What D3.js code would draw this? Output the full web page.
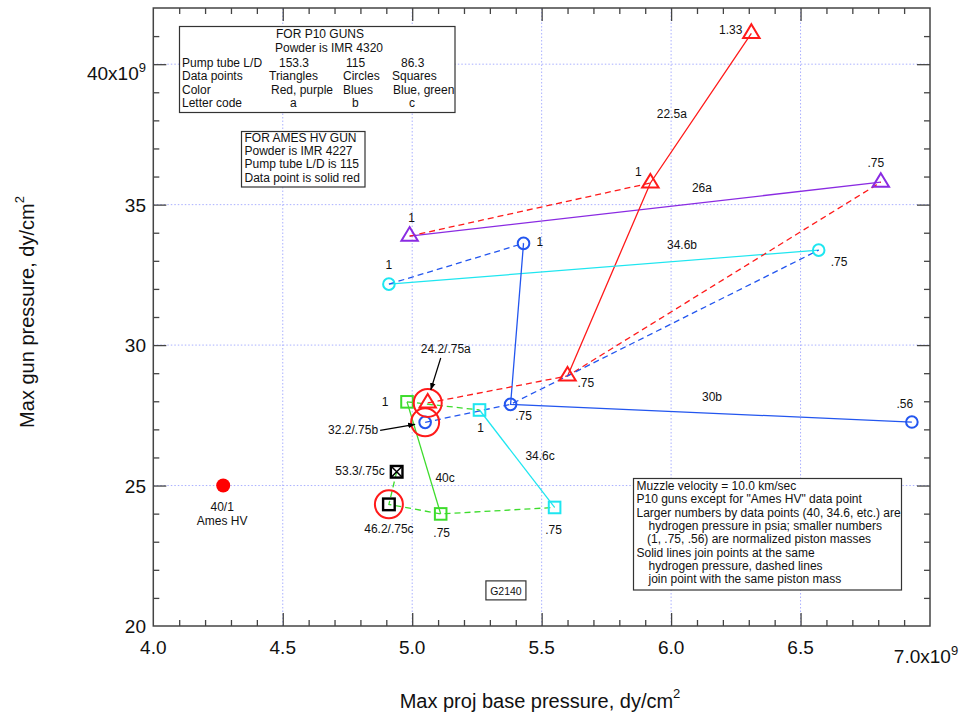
<!DOCTYPE html>
<html>
<head>
<meta charset="utf-8">
<script src="https://cdn.jsdelivr.net/npm/d3@7/dist/d3.min.js"></script>
<style>
  body { margin: 0; background: #fff; }
  svg { display: block; font-family: "Liberation Sans", Arial, Helvetica, sans-serif; }
</style>
</head>
<body>
<svg id="chart" width="969" height="719"></svg>
<script>
// Max gun pressure vs. max projectile base pressure (units of 1e9 dy/cm^2),
// P10 guns at 10.0 km/sec muzzle velocity, plus one Ames HV gun point.

// Axis ticks
const xMajorTicks = [4.0, 4.5, 5.0, 5.5, 6.0, 6.5, 7.0];
const xTickLabels = ["4.0", "4.5", "5.0", "5.5", "6.0", "6.5", "7.0x10"];
const yMajorTicks = [20, 25, 30, 35, 40];
const yTickLabels = ["20", "25", "30", "35", "40x10"];

// Rows: [hydrogen pressure + letter code, normalized piston mass, proj base pressure, gun pressure]
const triangles = [
  ["26a",   1.00, 4.99, 33.88],
  ["26a",   0.75, 6.81, 35.80],
  ["22.5a", 1.33, 6.31, 41.10],
  ["22.5a", 1.00, 5.92, 35.77],
  ["22.5a", 0.75, 5.60, 28.90],
  ["24.2a", 0.75, 5.06, 27.94]
];
const circles = [
  ["34.6b", 1.00, 4.91, 32.17],
  ["34.6b", 0.75, 6.57, 33.38],
  ["30b",   1.00, 5.43, 33.62],
  ["30b",   0.75, 5.38, 27.89],
  ["30b",   0.56, 6.93, 27.26],
  ["32.2b", 0.75, 5.05, 27.25]
];
const squares = [
  ["40c",   1.00, 4.98, 27.98],
  ["40c",   0.75, 5.11, 23.99],
  ["34.6c", 1.00, 5.26, 27.69],
  ["34.6c", 0.75, 5.55, 24.22],
  ["53.3c", 0.75, 4.94, 25.49],
  ["46.2c", 0.75, 4.91, 24.33]
];
const amesHV = [["40", 1.00, 4.27, 25.00]];

// Runs joined at the same piston mass (dashed)
const sameMassRuns = [
  ["26a/1", "22.5a/1"],
  ["24.2a/.75", "22.5a/.75", "26a/.75"],
  ["34.6b/1", "30b/1"],
  ["32.2b/.75", "30b/.75", "34.6b/.75"],
  ["40c/1", "34.6c/1"],
  ["53.3c/.75", "46.2c/.75", "40c/.75", "34.6c/.75"]
];

// Hydrogen-pressure labels along the solid lines: [text, x, y]
const lineLabels = [
  ["22.5a", 6.003, 38.08],
  ["26a",   6.119, 35.44],
  ["34.6b", 6.042, 33.42],
  ["30b",   6.158, 28.01],
  ["34.6c", 5.494, 25.91],
  ["40c",   5.127, 25.14]
];

// Points circled in red
const circledIds = ["24.2a/.75", "32.2b/.75", "46.2c/.75"];

// ---------------------------------------------------------------------------
const RED = "#ff1a1a", PURPLE = "#8a2be2", BLUE = "#2356ef", CYAN = "#1ee6f0", GREEN = "#3ddc2c";
const groupColor = {
  "26a": PURPLE, "22.5a": RED, "24.2a": RED,
  "34.6b": CYAN, "30b": BLUE, "32.2b": BLUE,
  "40c": GREEN, "34.6c": CYAN, "53.3c": "#000", "46.2c": "#000"
};
const dashColor = { a: RED, b: BLUE, c: GREEN };

const massText = m => (m < 1 ? String(m).replace(/^0/, "") : String(m));

const svg = d3.select("#chart");
const x = d3.scaleLinear().domain([4, 7]).range([153.3, 930]);
const y = d3.scaleLinear().domain([20, 42]).range([626, 8]);

function toPoints(rows, shape) {
  return rows.map(([group, mass, pb, pg]) => ({
    group, mass, pb, pg, shape,
    code: group.slice(-1),
    id: group + "/" + massText(mass)
  }));
}
const pts = [
  ...toPoints(triangles, "triangle"),
  ...toPoints(circles, "circle"),
  ...toPoints(squares, "square")
];
const byId = new Map(pts.map(p => [p.id, p]));

// Grid
const grid = svg.append("g")
  .attr("stroke", "#aab0ff").attr("stroke-width", 1).attr("stroke-dasharray", "1.5,2");
grid.selectAll("line.gx").data(xMajorTicks.filter(v => v > 4 && v < 7)).join("line")
  .attr("x1", d => x(d)).attr("x2", d => x(d)).attr("y1", y(20)).attr("y2", y(42));
grid.selectAll("line.gy").data(yMajorTicks.filter(v => v > 20)).join("line")
  .attr("y1", d => y(d)).attr("y2", d => y(d)).attr("x1", x(4)).attr("x2", x(7));

// Text boxes (frames first, text on top)
const boxFrames = svg.append("g").attr("fill", "#fff").attr("stroke", "#333").attr("stroke-width", 1.2);
const boxText = svg.append("g").attr("font-size", 12).attr("fill", "#111");
function textBox(x0, y0, w, h) {
  boxFrames.append("rect").attr("x", x0).attr("y", y0).attr("width", w).attr("height", h);
}

textBox(179.5, 26.5, 275.5, 86);
boxText.append("text").attr("x", 320).attr("y", 38).attr("text-anchor", "middle").text("FOR P10 GUNS");
boxText.append("text").attr("x", 329).attr("y", 52).attr("text-anchor", "middle").text("Powder is IMR 4320");
const p10Rows = [
  ["Pump tube L/D", "153.3", "115", "86.3"],
  ["Data points", "Triangles", "Circles", "Squares"],
  ["Color", "Red, purple", "Blues", "Blue, green"],
  ["Letter code", "a", "b", "c"]
];
const p10ColX = [[182, 279, 346, 401], [182, 269, 343, 392], [182, 271, 343, 393], [182, 290, 352, 409]];
p10Rows.forEach((row, i) => row.forEach((cell, j) => {
  boxText.append("text").attr("x", p10ColX[i][j]).attr("y", 66.5 + i * 13.6).text(cell);
}));

textBox(241.5, 131.5, 123.5, 55.5);
["FOR AMES HV GUN", "Powder is IMR 4227", "Pump tube L/D is 115", "Data point is solid red"]
  .forEach((t, i) => boxText.append("text").attr("x", 244.5).attr("y", 141.8 + i * 13.3).text(t));

textBox(633.5, 478.5, 268, 111.5);
const notes = [
  ["Muzzle velocity = 10.0 km/sec", 0],
  ["P10 guns except for \"Ames HV\" data point", 0],
  ["Larger numbers by data points (40, 34.6, etc.) are", 0],
  ["hydrogen pressure in psia; smaller numbers", 12],
  ["(1, .75, .56) are normalized piston masses", 10.5],
  ["Solid lines join points at the same", 0],
  ["hydrogen pressure, dashed lines", 12],
  ["join point with the same piston mass", 12]
];
notes.forEach(([t, ind], i) =>
  boxText.append("text").attr("x", 636.5 + ind).attr("y", 490 + i * 13.35).text(t));

// Figure tag
textBox(x(5.362) - 20, y(21.25) - 10, 40, 19);
boxText.append("text").attr("x", x(5.362)).attr("y", y(21.25) + 4).attr("text-anchor", "middle")
  .attr("font-size", 10.5).text("G2140");

// Solid lines: same hydrogen pressure, ordered by piston mass
const lineGen = d3.line().x(d => x(d.pb)).y(d => y(d.pg));
const solidGroups = d3.groups(pts, d => d.group).filter(([, v]) => v.length > 1);
svg.append("g").selectAll("path").data(solidGroups).join("path")
  .attr("d", ([, v]) => lineGen(v.slice().sort((a, b) => b.mass - a.mass)))
  .attr("fill", "none").attr("stroke-width", 1.3)
  .attr("stroke", ([g]) => groupColor[g]);

// Dashed lines: same piston mass
svg.append("g").selectAll("path").data(sameMassRuns).join("path")
  .attr("d", ids => lineGen(ids.map(id => byId.get(id))))
  .attr("fill", "none").attr("stroke-width", 1.3).attr("stroke-dasharray", "6,4")
  .attr("stroke", ids => dashColor[byId.get(ids[0]).code]);

// Markers
const mk = svg.append("g").attr("fill", "none").attr("stroke-width", 2);
mk.selectAll("path.tri").data(pts.filter(p => p.shape === "triangle")).join("path")
  .attr("d", p => { const cx = x(p.pb), cy = y(p.pg);
    return `M${cx},${cy - 9}L${cx + 8.2},${cy + 4.6}L${cx - 8.2},${cy + 4.6}Z`; })
  .attr("stroke", p => groupColor[p.group]).attr("stroke-linejoin", "miter");
mk.selectAll("circle.c").data(pts.filter(p => p.shape === "circle")).join("circle")
  .attr("cx", p => x(p.pb)).attr("cy", p => y(p.pg)).attr("r", 5.8)
  .attr("stroke", p => groupColor[p.group]);
mk.selectAll("rect.s").data(pts.filter(p => p.shape === "square")).join("rect")
  .attr("x", p => x(p.pb) - 5.8).attr("y", p => y(p.pg) - 5.8)
  .attr("width", 11.6).attr("height", 11.6)
  .attr("stroke", p => groupColor[p.group])
  .attr("stroke-width", p => (groupColor[p.group] === "#000" ? 2.4 : 2));
// crossed box for the 53.3 psia point
const xp = byId.get("53.3c/.75");
mk.append("path")
  .attr("d", `M${x(xp.pb) - 5},${y(xp.pg) - 5}L${x(xp.pb) + 5},${y(xp.pg) + 5}M${x(xp.pb) + 5},${y(xp.pg) - 5}L${x(xp.pb) - 5},${y(xp.pg) + 5}`)
  .attr("stroke", "#000").attr("stroke-width", 1.6);

// Red rings
mk.selectAll("circle.ring").data(circledIds.map(id => byId.get(id))).join("circle")
  .attr("cx", p => x(p.pb)).attr("cy", p => y(p.pg)).attr("r", 14)
  .attr("stroke", RED).attr("stroke-width", 2);

// Ames HV solid point
svg.append("g").selectAll("circle").data(amesHV).join("circle")
  .attr("cx", d => x(d[2])).attr("cy", d => y(d[3])).attr("r", 7).attr("fill", "#ff0000");

// Labels
const lab = svg.append("g").attr("font-size", 12).attr("fill", "#111");
// piston-mass labels: [id, dx, dy, anchor]
const massLabelPlacement = [
  ["22.5a/1.33", -9, 1, "end"],
  ["22.5a/1", -12, -7, "middle"],
  ["26a/.75", -5, -15, "middle"],
  ["26a/1", 2, -14, "middle"],
  ["30b/1", 13, 3, "start"],
  ["34.6b/1", 0, -15, "middle"],
  ["34.6b/.75", 12, 16, "start"],
  ["22.5a/.75", 10, 11, "start"],
  ["30b/.75", 13, 16, "middle"],
  ["30b/.56", -7, -14, "middle"],
  ["40c/1", -22, 4, "middle"],
  ["34.6c/1", 1, 22, "middle"],
  ["40c/.75", 1, 23, "middle"],
  ["34.6c/.75", -1, 27, "middle"]
];
massLabelPlacement.forEach(([id, dx, dy, anchor]) => {
  const p = byId.get(id);
  lab.append("text").attr("x", x(p.pb) + dx).attr("y", y(p.pg) + dy)
    .attr("text-anchor", anchor).text(massText(p.mass));
});
// combined pressure/mass labels: [id, dx, dy, anchor]
const comboPlacement = [
  ["24.2a/.75", 18, -50, "middle"],
  ["32.2b/.75", -47, 12, "end"],
  ["53.3c/.75", -12, 3, "end"],
  ["46.2c/.75", 0, 29, "middle"]
];
comboPlacement.forEach(([id, dx, dy, anchor]) => {
  const p = byId.get(id);
  const txt = p.group.slice(0, -1) + "/" + massText(p.mass) + p.code;
  lab.append("text").attr("x", x(p.pb) + dx).attr("y", y(p.pg) + dy)
    .attr("text-anchor", anchor).text(txt);
});
lineLabels.forEach(([t, lx, ly]) =>
  lab.append("text").attr("x", x(lx)).attr("y", y(ly)).attr("text-anchor", "middle").text(t));
amesHV.forEach(d => {
  lab.append("text").attr("x", x(d[2]) - 1).attr("y", y(d[3]) + 25).attr("text-anchor", "middle")
    .text(d[0] + "/" + massText(d[1]));
  lab.append("text").attr("x", x(d[2]) - 1).attr("y", y(d[3]) + 39).attr("text-anchor", "middle")
    .text("Ames HV");
});

// Arrows from labels to circled points: [id, from dx, from dy, to dx, to dy]
const defs = svg.append("defs");
defs.append("marker").attr("id", "arrowhead").attr("viewBox", "0 0 10 10")
  .attr("refX", 10).attr("refY", 5).attr("markerWidth", 7).attr("markerHeight", 7)
  .attr("markerUnits", "userSpaceOnUse").attr("orient", "auto")
  .append("path").attr("d", "M0,1L10,5L0,9Z").attr("fill", "#000");
const arrows = [
  ["24.2a/.75", 13, -45, 3, -13],
  ["32.2b/.75", -45, 8, -10, 2]
];
arrows.forEach(([id, fx, fy, tx, ty]) => {
  const p = byId.get(id);
  svg.append("line")
    .attr("x1", x(p.pb) + fx).attr("y1", y(p.pg) + fy)
    .attr("x2", x(p.pb) + tx).attr("y2", y(p.pg) + ty)
    .attr("stroke", "#000").attr("stroke-width", 1.2).attr("marker-end", "url(#arrowhead)");
});

// Frame with inward ticks on all four sides
const AX = "#444";
function ticks(gen, transform, vals, size) {
  svg.append("g").attr("transform", transform)
    .call(gen.tickValues(vals).tickSize(size).tickSizeOuter(0).tickFormat(""))
    .call(g => g.select(".domain").remove())
    .call(g => g.selectAll("line").attr("stroke", AX).attr("stroke-width", 1.3));
}
const xMinor = d3.range(41, 70).filter(i => i % 5 !== 0).map(i => i / 10);
const yMinor = d3.range(21, 42).filter(i => i % 5 !== 0);
const xMaj = xMajorTicks.filter(v => v > 4 && v < 7);
const yMaj = yMajorTicks.filter(v => v > 20);
ticks(d3.axisBottom(x), `translate(0,${y(20)})`, xMaj, -13);
ticks(d3.axisBottom(x), `translate(0,${y(20)})`, xMinor, -6);
ticks(d3.axisTop(x), `translate(0,${y(42)})`, xMaj, -13);
ticks(d3.axisTop(x), `translate(0,${y(42)})`, xMinor, -6);
ticks(d3.axisLeft(y), `translate(${x(4)},0)`, yMaj, -13);
ticks(d3.axisLeft(y), `translate(${x(4)},0)`, yMinor, -6);
ticks(d3.axisRight(y), `translate(${x(7)},0)`, yMaj, -13);
ticks(d3.axisRight(y), `translate(${x(7)},0)`, yMinor, -6);
svg.append("rect").attr("x", x(4)).attr("y", y(42))
  .attr("width", x(7) - x(4)).attr("height", y(20) - y(42))
  .attr("fill", "none").attr("stroke", AX).attr("stroke-width", 1.5);

// Tick labels
const tl = svg.append("g").attr("font-size", 19).attr("fill", "#111");
xMajorTicks.forEach((v, i) => {
  const last = i === xMajorTicks.length - 1;
  const t = tl.append("text").attr("x", x(v) - (last ? 4 : 0)).attr("y", last ? 663 : 654)
    .attr("text-anchor", "middle").text(xTickLabels[i]);
  if (last) t.append("tspan").attr("font-size", 13).attr("dy", -8).text("9");
});
yMajorTicks.forEach((v, i) => {
  const last = i === yMajorTicks.length - 1;
  const t = tl.append("text").attr("x", 146).attr("y", y(v) + (last ? 16 : 7))
    .attr("text-anchor", "end").text(yTickLabels[i]);
  if (last) t.append("tspan").attr("font-size", 13).attr("dy", -8).text("9");
});

// Axis titles
const xt = svg.append("text").attr("x", 540).attr("y", 708).attr("text-anchor", "middle")
  .attr("font-size", 20).attr("fill", "#111").text("Max proj base pressure, dy/cm");
xt.append("tspan").attr("font-size", 13).attr("dy", -10).text("2");
const yt = svg.append("text").attr("transform", "translate(34,312) rotate(-90)")
  .attr("text-anchor", "middle").attr("font-size", 20).attr("fill", "#111")
  .text("Max gun pressure, dy/cm");
yt.append("tspan").attr("font-size", 13).attr("dy", -10).text("2");
</script>
</body>
</html>
